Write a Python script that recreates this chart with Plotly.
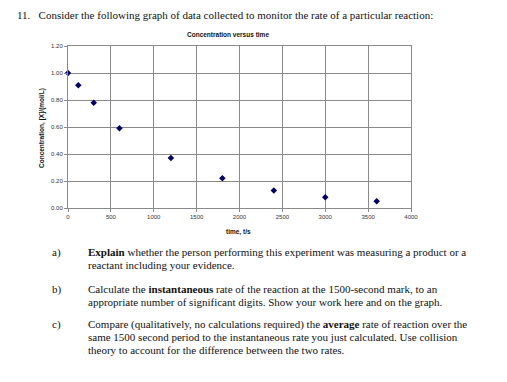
import plotly.graph_objects as go

# Data
time_s = [0, 120, 300, 600, 1200, 1800, 2400, 3000, 3600]
conc = [1.00, 0.91, 0.78, 0.59, 0.37, 0.22, 0.13, 0.08, 0.05]

x_ticks = [0, 500, 1000, 1500, 2000, 2500, 3000, 3500, 4000]
y_ticks = [0.0, 0.2, 0.4, 0.6, 0.8, 1.0, 1.2]
y_tick_labels = ["0.00", "0.20", "0.40", "0.60", "0.80", "1.00", "1.20"]

W, H = 507, 382
L, R, T, B = 68, 96, 46, 174
PW, PH = W - L - R, H - T - B


def px(x):
    return (x - L) / PW


def py(y):
    return 1 - (y - T) / PH


fig = go.Figure()
fig.add_trace(go.Scatter(
    x=time_s, y=conc, mode="markers",
    marker=dict(symbol="diamond", size=5, color="#000066"),
    showlegend=False, cliponaxis=False,
))

axis_common = dict(
    showgrid=True, gridcolor="#8a8a8a", gridwidth=1,
    showline=True, linecolor="#8a8a8a", linewidth=1, mirror=True,
    ticks="outside", ticklen=3, tickcolor="#8a8a8a",
    tickfont=dict(family="Liberation Sans", size=6, color="#333"),
    zeroline=False, automargin=False,
)

fig.update_xaxes(range=[0, 4000], tickvals=x_ticks, **axis_common)
fig.update_yaxes(range=[0, 1.2], tickvals=y_ticks, ticktext=y_tick_labels, **axis_common)

serif = dict(family="Liberation Serif", size=11, color="#111")
sans_b = dict(family="Liberation Sans", size=6.5, color="#111")

ann = []


def text(x, y, s, font, xanchor="left"):
    ann.append(dict(x=px(x), y=py(y), xref="paper", yref="paper", text=s,
                    showarrow=False, xanchor=xanchor, yanchor="middle", font=font))


text(15, 15, "11.&nbsp;&nbsp;&nbsp;Consider the following graph of data collected to monitor the rate of a particular reaction:", serif)
text(228, 35, "<b>Concentration versus time</b>", sans_b, "center")
text(238, 232, "<b>time, t/s</b>", sans_b, "center")
ann.append(dict(x=px(42), y=py(128), xref="paper", yref="paper",
                text="<b>Concentration, [X]/(mol/L)</b>", textangle=-90,
                showarrow=False, xanchor="center", yanchor="middle", font=sans_b))

text(50, 252, "a)", serif)
text(86, 252, "<b>Explain</b> whether the person performing this experiment was measuring a product or a", serif)
text(86, 265, "reactant including your evidence.", serif)
text(50, 289, "b)", serif)
text(86, 289, "Calculate the <b>instantaneous</b> rate of the reaction at the 1500-second mark, to an", serif)
text(86, 302, "appropriate number of significant digits. Show your work here and on the graph.", serif)
text(50, 324, "c)", serif)
text(86, 324, "Compare (qualitatively, no calculations required) the <b>average</b> rate of reaction over the", serif)
text(86, 337, "same 1500 second period to the instantaneous rate you just calculated. Use collision", serif)
text(86, 350, "theory to account for the difference between the two rates.", serif)

fig.update_layout(
    width=W, height=H,
    margin=dict(l=L, r=R, t=T, b=B),
    paper_bgcolor="white", plot_bgcolor="white",
    annotations=ann,
)

fig.write_html("out.html", config={"displayModeBar": False},
               post_script="document.body.style.margin='0';document.body.style.padding='0';")
